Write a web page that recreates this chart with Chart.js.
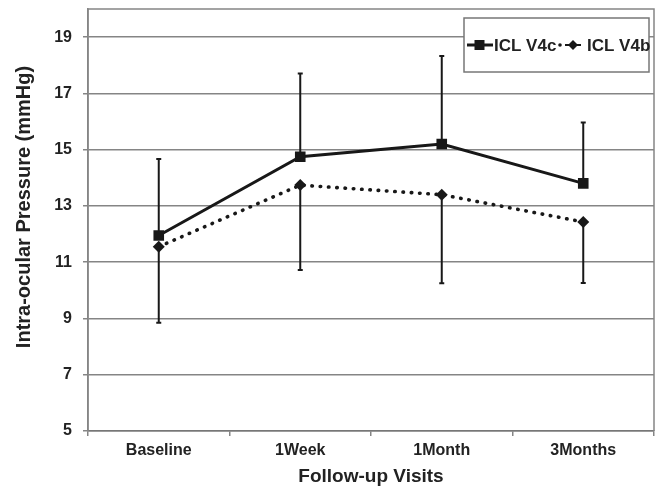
<!DOCTYPE html>
<html>
<head>
<meta charset="utf-8">
<script src="https://cdn.jsdelivr.net/npm/chart.js@4.4.1/dist/chart.umd.min.js"></script>
<style>
  html, body { margin: 0; padding: 0; background: #fff; }
  #wrap { width: 657px; height: 488px; }
</style>
</head>
<body>
<div id="wrap"><canvas id="iopChart" width="657" height="488"></canvas></div>
<script>
const visits = ['Baseline', '1Week', '1Month', '3Months'];
const v4cMean = [11.95, 14.75, 15.2, 13.8];
const v4bMean = [11.55, 13.74, 13.4, 12.43];
const v4cUpper = [14.67, 17.71, 18.33, 15.97];
const v4bLower = [8.85, 10.72, 10.25, 10.26];
const yTicks = [5, 7, 9, 11, 13, 15, 17, 19];
const yTitle = 'Intra-ocular Pressure (mmHg)';

const INK = '#181818';
const GRID = '#858585';
const TXT = '#222';
const FONT = "'Liberation Sans', Arial, sans-serif";

// error bars: V4c goes up, V4b goes down
const errorBars = {
    id: 'errorBars',
    beforeDatasetsDraw(chart) {
        const { ctx, scales: { x, y } } = chart;
        ctx.save();
        ctx.strokeStyle = INK;
        ctx.lineWidth = 2;
        const draw = (means, ends) => {
            means.forEach((m, i) => {
                const px = x.getPixelForValue(i);
                const y0 = y.getPixelForValue(m);
                const y1 = y.getPixelForValue(ends[i]);
                ctx.beginPath();
                ctx.moveTo(px, y0);
                ctx.lineTo(px, y1);
                ctx.moveTo(px - 2.5, y1);
                ctx.lineTo(px + 2.5, y1);
                ctx.stroke();
            });
        };
        draw(v4cMean, v4cUpper);
        draw(v4bMean, v4bLower);
        ctx.restore();
    }
};

// plot frame, y title (sits a bit above centre in the original) and legend box
const frameAndLegend = {
    id: 'frameAndLegend',
    afterDraw(chart) {
        const { ctx, chartArea: a } = chart;
        ctx.save();
        ctx.strokeStyle = GRID;
        ctx.lineWidth = 1.5;
        ctx.beginPath();
        ctx.moveTo(a.left, a.bottom);
        ctx.lineTo(a.left, a.top);
        ctx.lineTo(a.right, a.top);
        ctx.lineTo(a.right, a.bottom);
        ctx.stroke();

        ctx.save();
        ctx.translate(a.left - 64, (a.top + a.bottom) / 2 - 13);
        ctx.rotate(-Math.PI / 2);
        ctx.font = "bold 20px " + FONT;
        ctx.fillStyle = TXT;
        ctx.textAlign = 'center';
        ctx.textBaseline = 'middle';
        ctx.fillText(yTitle, 0, 0);
        ctx.restore();

        // legend
        const bx = a.right - 190, by = a.top + 9, bw = 185, bh = 54;
        ctx.fillStyle = '#fff';
        ctx.fillRect(bx, by, bw, bh);
        ctx.strokeStyle = '#777';
        ctx.lineWidth = 1.5;
        ctx.strokeRect(bx, by, bw, bh);

        const cy = by + 27;
        ctx.strokeStyle = INK;
        ctx.fillStyle = INK;
        ctx.lineWidth = 3;
        ctx.beginPath();
        ctx.moveTo(bx + 3, cy);
        ctx.lineTo(bx + 29, cy);
        ctx.stroke();
        ctx.fillRect(bx + 10.5, cy - 5, 10, 10);

        ctx.font = "bold 17px " + FONT;
        ctx.textBaseline = 'middle';
        ctx.textAlign = 'left';
        ctx.fillStyle = TXT;
        ctx.fillText('ICL V4c', bx + 30, cy + 1);

        ctx.fillStyle = INK;
        ctx.beginPath();
        ctx.arc(bx + 96, cy, 1.8, 0, Math.PI * 2);
        ctx.fill();
        ctx.lineWidth = 2;
        ctx.beginPath();
        ctx.moveTo(bx + 101, cy);
        ctx.lineTo(bx + 117, cy);
        ctx.stroke();
        ctx.beginPath();
        ctx.moveTo(bx + 109, cy - 5);
        ctx.lineTo(bx + 114, cy);
        ctx.lineTo(bx + 109, cy + 5);
        ctx.lineTo(bx + 104, cy);
        ctx.closePath();
        ctx.fill();
        ctx.fillStyle = TXT;
        ctx.fillText('ICL V4b', bx + 123, cy + 1);
        ctx.restore();
    }
};

const ctx = document.getElementById('iopChart').getContext('2d');
const iopChart = new Chart(ctx, {
    type: 'line',
    data: {
        labels: visits,
        datasets: [{
            label: 'ICL V4c',
            data: v4cMean,
            borderColor: INK,
            backgroundColor: INK,
            borderWidth: 3,
            pointStyle: 'rect',
            pointRadius: 7.5,
            pointBorderWidth: 0,
            fill: false,
            tension: 0
        }, {
            label: 'ICL V4b',
            data: v4bMean,
            borderColor: INK,
            backgroundColor: INK,
            borderWidth: 3.6,
            borderDash: [0.5, 7.8],
            borderCapStyle: 'round',
            pointStyle: 'rectRot',
            pointRadius: 6,
            pointBorderWidth: 0,
            fill: false,
            tension: 0
        }]
    },
    options: {
        responsive: false,
        animation: false,
        layout: { autoPadding: false, padding: { top: 9, right: 3, left: 0, bottom: 0 } },
        plugins: {
            legend: { display: false },
            tooltip: { enabled: false }
        },
        scales: {
            x: {
                type: 'category',
                offset: true,
                grid: {
                    offset: true,
                    drawOnChartArea: false,
                    drawTicks: true,
                    tickLength: 5,
                    color: GRID,
                    lineWidth: 1.5
                },
                border: { display: true, color: '#777', width: 1.5 },
                ticks: {
                    color: TXT,
                    padding: 5,
                    maxRotation: 0,
                    font: { family: FONT, size: 16, weight: 'bold' }
                },
                title: {
                    display: true,
                    text: 'Follow-up Visits',
                    color: TXT,
                    padding: { top: 0, bottom: 0 },
                    font: { family: FONT, size: 19, weight: 'bold' }
                },
                afterFit(scale) {
                    scale.height = 57;
                    scale.paddingLeft = 0;
                    scale.paddingRight = 0;
                }
            },
            y: {
                min: 5,
                max: 20,
                afterBuildTicks(scale) {
                    scale.ticks = yTicks.map(v => ({ value: v }));
                },
                grid: {
                    color: GRID,
                    lineWidth: 1.5,
                    tickLength: 5
                },
                border: { display: true, color: GRID, width: 1.5 },
                ticks: {
                    color: TXT,
                    padding: 11,
                    font: { family: FONT, size: 16, weight: 'bold' }
                },
                title: { display: false },
                afterFit(scale) {
                    scale.width = 88;
                    scale.paddingTop = 0;
                    scale.paddingBottom = 0;
                }
            }
        }
    },
    plugins: [errorBars, frameAndLegend]
});
</script>
</body>
</html>
